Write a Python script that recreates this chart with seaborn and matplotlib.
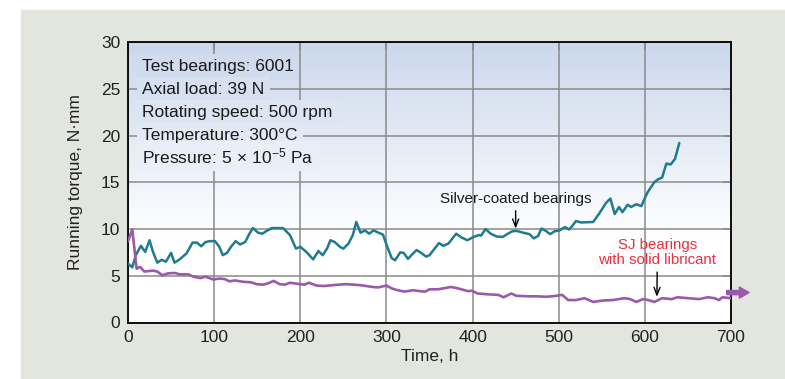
import numpy as np
import pandas as pd
import matplotlib
matplotlib.use("Agg")
import matplotlib.pyplot as plt
from matplotlib.patches import Rectangle
import seaborn as sns

# Silver-coated bearings (teal curve)
silver_time = [0, 5, 9, 15, 20, 25, 29, 34, 39, 44, 50, 54, 60, 68, 75, 80, 85, 90, 95, 101,
               106, 110, 115, 120, 125, 130, 136, 141, 145, 151, 156, 161, 167, 180, 188, 195,
               200, 207, 215, 221, 226, 231, 235, 240, 246, 250, 256, 261, 265, 270, 275, 280,
               285, 291, 296, 301, 306, 310, 316, 320, 325, 330, 335, 341, 346, 350, 361, 366,
               372, 381, 387, 394, 400, 407, 410, 415, 421, 428, 435, 441, 446, 451, 459, 466,
               471, 476, 480, 485, 490, 495, 501, 507, 512, 516, 520, 526, 540, 547, 555, 560,
               565, 570, 574, 580, 584, 590, 596, 599, 603, 608, 611, 615, 620, 625, 630, 635,
               640]
silver_torque = [6.3, 5.9, 7.2, 8.2, 7.55, 8.8, 7.55, 6.4, 6.7, 6.5, 7.45, 6.4, 6.75, 7.4, 8.55,
                 8.55, 8.15, 8.6, 8.7, 8.7, 8.1, 7.2, 7.45, 8.15, 8.7, 8.35, 8.6, 9.5, 10.1, 9.6,
                 9.5, 9.8, 10.1, 10.1, 9.35, 7.9, 8.1, 7.55, 6.75, 7.65, 7.2, 7.9, 8.8, 8.6, 8.1,
                 7.9, 8.45, 9.35, 10.75, 9.6, 9.85, 9.5, 9.85, 9.6, 9.4, 8.1, 6.9, 6.65, 7.5,
                 7.45, 6.8, 7.3, 7.75, 7.4, 7.05, 7.2, 8.5, 8.2, 8.45, 9.5, 9.1, 8.8, 9.1, 9.35,
                 9.3, 10.0, 9.5, 9.2, 9.15, 9.5, 9.75, 9.8, 9.6, 9.45, 9.0, 9.25, 10.05, 9.8,
                 9.45, 9.75, 9.85, 10.2, 9.95, 10.35, 10.85, 10.7, 10.75, 11.65, 12.8, 13.25,
                 11.6, 12.35, 11.8, 12.6, 12.35, 12.65, 12.45, 13.1, 13.9, 14.6, 15.0, 15.3,
                 15.5, 17.0, 16.9, 17.5, 19.2]

# SJ bearings with solid lubricant (purple curve)
sj_time = [0, 5, 10, 14, 19, 24, 29, 34, 40, 46, 54, 60, 70, 76, 84, 90, 99, 106, 112, 118,
           124, 134, 143, 149, 157, 163, 169, 176, 182, 188, 200, 205, 210, 219, 227, 238, 253,
           269, 284, 290, 300, 306, 313, 321, 331, 339, 345, 350, 360, 366, 375, 383, 395, 399,
           406, 420, 430, 436, 445, 451, 465, 474, 486, 497, 504, 511, 520, 530, 540, 551, 563,
           576, 583, 590, 598, 604, 611, 620, 631, 638, 650, 663, 673, 681, 686, 690, 700]
sj_torque = [8.7, 9.95, 5.75, 5.95, 5.45, 5.5, 5.55, 5.45, 5.05, 5.25, 5.3, 5.15, 5.15, 4.9,
             4.75, 4.9, 4.6, 4.7, 4.65, 4.4, 4.5, 4.35, 4.3, 4.1, 4.05, 4.2, 4.45, 4.1, 4.05,
             4.25, 4.1, 4.05, 4.25, 3.95, 3.9, 4.0, 4.1, 4.0, 3.8, 3.75, 3.95, 3.65, 3.45, 3.3,
             3.45, 3.35, 3.3, 3.55, 3.55, 3.65, 3.8, 3.65, 3.35, 3.4, 3.1, 3.0, 2.95, 2.7, 3.1,
             2.85, 2.8, 2.8, 2.75, 2.85, 2.95, 2.4, 2.4, 2.6, 2.2, 2.35, 2.4, 2.6, 2.5, 2.2, 2.5,
             2.4, 2.2, 2.6, 2.5, 2.7, 2.6, 2.5, 2.7, 2.6, 2.4, 2.7, 2.6]

x_ticks = [0, 100, 200, 300, 400, 500, 600, 700]
y_ticks = [0, 5, 10, 15, 20, 25, 30]

test_conditions = [
    "Test bearings: 6001",
    "Axial load: 39 N",
    "Rotating speed: 500 rpm",
    "Temperature: 300°C",
    "Pressure: 5$\\,\\times\\,$10$^{-5}$ Pa",
]

TEAL = "#1f7b8e"
PURPLE = "#9b59ab"
RED = "#ec2f3b"
TOP_BLUE = np.array([202, 215, 236]) / 255.0


def grad_color(frac):
    # colour of the plot background at axes fraction frac (0 bottom, 1 top)
    w = max(0.0, (frac - 0.3) / 0.7)
    return tuple(1.0 - w * (1.0 - TOP_BLUE))


sns.set_style("white")
plt.rcParams["font.family"] = ["Liberation Sans", "DejaVu Sans"]
plt.rcParams["mathtext.fontset"] = "custom"
plt.rcParams["mathtext.rm"] = "Liberation Sans"
plt.rcParams["mathtext.it"] = "Liberation Sans:italic"

fig = plt.figure(figsize=(7.85, 3.79), dpi=100, facecolor="white")
fig.patches.append(Rectangle((21 / 785, 0), 1 - 21 / 785, 369 / 379,
                             transform=fig.transFigure, color="#e2e6df", zorder=-1))
ax = fig.add_axes([128 / 785, 56.5 / 379, 603 / 785, 280.5 / 379])

# background gradient
fr = np.linspace(0, 1, 256)
grad = np.array([grad_color(f) for f in fr[::-1]])[:, None, :]
ax.imshow(grad, extent=(0, 1, 0, 1), transform=ax.transAxes, aspect="auto", zorder=0)

silver = pd.DataFrame({"time": silver_time, "torque": silver_torque})
sj = pd.DataFrame({"time": sj_time, "torque": sj_torque})
sns.lineplot(data=silver, x="time", y="torque", color=TEAL, lw=1.8, ax=ax, zorder=3)
sns.lineplot(data=sj, x="time", y="torque", color=PURPLE, lw=1.9, ax=ax, zorder=3)

ax.set_xlim(0, 700)
ax.set_ylim(0, 30)
ax.set_xticks(x_ticks)
ax.set_yticks(y_ticks)
ax.set_axisbelow(True)
ax.grid(True, color="#8a8a8a", lw=1.1)
ax.tick_params(direction="in", length=6, width=1.1, color="#8a8a8a", labelsize=12.5,
               pad=5.5, top=True, right=True, labelcolor="#222222")
for s in ax.spines.values():
    s.set_color("black")
    s.set_linewidth(1.3)
ax.set_xlabel("Time, h", fontsize=12.5, labelpad=3, color="#222222")
ax.set_ylabel("Running torque, N·mm", fontsize=12.5, labelpad=13, color="#222222")

# test conditions block: backgrounds first, then the text
for i, line in enumerate(test_conditions):
    yv = 26.85 - 2.45 * i
    bg = grad_color((yv + 0.8) / 30)
    ax.text(16.5, yv, line, fontsize=12.5, va="baseline", ha="left", color=(0, 0, 0, 0),
            bbox=dict(boxstyle="square,pad=0.3", fc=bg, ec="none"), zorder=1)
for i, line in enumerate(test_conditions):
    ax.text(16.5, 26.85 - 2.45 * i, line, fontsize=12.5, va="baseline", ha="left",
            color="#1a1a1a", zorder=2)

ax.annotate("Silver-coated bearings", xy=(450, 10.05), xytext=(450, 13.2),
            ha="center", va="center", fontsize=11, color="#1a1a1a",
            arrowprops=dict(arrowstyle="->,head_length=0.5,head_width=0.2", lw=1,
                            color="black", shrinkA=1, shrinkB=0), zorder=4)
ax.annotate("SJ bearings\nwith solid libricant", xy=(614, 2.75), xytext=(614.5, 7.45),
            ha="center", va="center", multialignment="center", fontsize=10.8, color=RED,
            linespacing=1.1,
            arrowprops=dict(arrowstyle="->,head_length=0.5,head_width=0.2", lw=1,
                            color="black", shrinkA=1, shrinkB=0), zorder=4)

# arrow showing the SJ test continues past 700 h
ax.annotate("", xy=(721, 3.2), xytext=(695, 3.2), annotation_clip=False,
            arrowprops=dict(arrowstyle="simple,head_length=0.7,head_width=0.8,tail_width=0.3",
                            color=PURPLE, shrinkA=0, shrinkB=0))

fig.savefig("out.png", dpi=100)
